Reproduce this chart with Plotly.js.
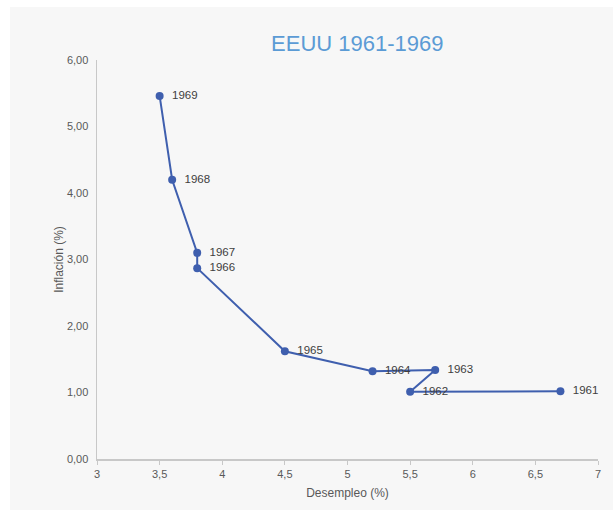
<!DOCTYPE html>
<html>
<head>
<meta charset="utf-8">
<script src="https://cdn.plot.ly/plotly-3.0.1.min.js"></script>
<style>
  html, body { margin: 0; padding: 0; background: #ffffff; }
  #chart { position: absolute; left: 10px; top: 7px; width: 603px; height: 503px; }
</style>
</head>
<body>
<div id="chart"></div>
<script>
const years = ['1961', '1962', '1963', '1964', '1965', '1966', '1967', '1968', '1969'];
const unemployment = [6.7, 5.5, 5.7, 5.2, 4.5, 3.8, 3.8, 3.6, 3.5];
const inflation = [1.02, 1.01, 1.34, 1.32, 1.62, 2.87, 3.10, 4.20, 5.46];

const trace = {
  x: unemployment,
  y: inflation,
  text: years.map(function (y) { return '\u00a0\u00a0' + y; }),
  type: 'scatter',
  mode: 'lines+markers+text',
  textposition: 'middle right',
  textfont: { family: 'Liberation Sans, Arial, sans-serif', size: 11.5, color: '#404040' },
  line: { color: '#3f5fae', width: 2 },
  marker: { color: '#3f5fae', size: 8 },
  cliponaxis: false,
  hoverinfo: 'x+y+text'
};

const layout = {
  width: 603,
  height: 503,
  paper_bgcolor: '#f7f7f7',
  plot_bgcolor: '#f7f7f7',
  separators: ',.',
  margin: { l: 87, r: 15, t: 53, b: 51 },
  showlegend: false,
  font: { family: 'Liberation Sans, Arial, sans-serif', color: '#595959' },
  title: {
    text: 'EEUU 1961-1969',
    font: { family: 'Liberation Sans, Arial, sans-serif', size: 22, color: '#5b9bd5' },
    xref: 'container', x: 0.576, xanchor: 'center',
    yref: 'container', y: 0.927, yanchor: 'middle'
  },
  xaxis: {
    range: [3, 7],
    dtick: 0.5,
    tick0: 3,
    showgrid: false,
    zeroline: false,
    showline: true,
    linecolor: '#c8c8c8',
    linewidth: 1.5,
    ticks: 'outside',
    ticklen: 4,
    tickcolor: '#c8c8c8',
    tickfont: { size: 11, color: '#595959' },
    title: { text: 'Desempleo (%)', font: { size: 12, color: '#595959' }, standoff: 10 }
  },
  yaxis: {
    range: [0, 6],
    dtick: 1,
    tickformat: '.2f',
    showgrid: false,
    zeroline: false,
    showline: true,
    linecolor: '#c8c8c8',
    linewidth: 1.5,
    ticks: '',
    ticklabelstandoff: 5,
    tickfont: { size: 11, color: '#595959' },
    title: { text: 'Inflación (%)', font: { size: 12, color: '#595959' }, standoff: 0 }
  }
};

Plotly.newPlot('chart', [trace], layout, { displayModeBar: false, staticPlot: true });
</script>
</body>
</html>
